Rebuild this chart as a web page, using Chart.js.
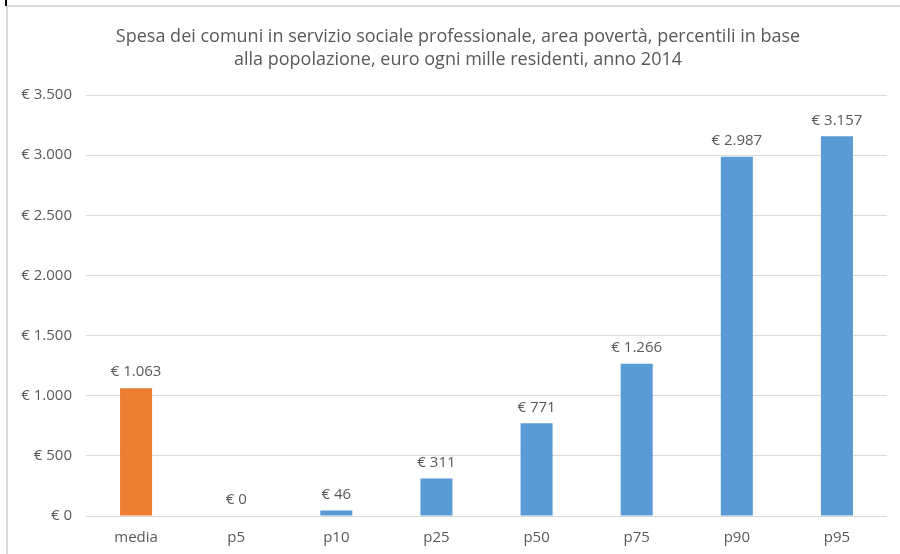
<!DOCTYPE html>
<html>
<head>
<meta charset="utf-8">
<script src="https://cdn.jsdelivr.net/npm/chart.js@4"></script>
<style>
  html, body { margin: 0; padding: 0; background: #fff; }
  #wrap { position: relative; width: 900px; height: 554px; }
  #frameTop { position: absolute; left: 7px; top: 5px; width: 893px; height: 2px; background: #d9d9d9; }
  #frameLeft { position: absolute; left: 6px; top: 6px; width: 2px; height: 548px; background: #d9d9d9; }
  #tick { position: absolute; left: 5px; top: 0; width: 2px; height: 6px; background: #000; }
  canvas { position: absolute; left: 0; top: 0; }
</style>
</head>
<body>
<div id="wrap">
  <canvas id="chart" width="900" height="554"></canvas>
  <div id="frameTop"></div>
  <div id="frameLeft"></div>
  <div id="tick"></div>
</div>
<script>
const categories = ['media', 'p5', 'p10', 'p25', 'p50', 'p75', 'p90', 'p95']
const spesa = [1063, 0, 46, 311, 771, 1266, 2987, 3157]
const barColors = ['#ED7D31', '#5B9BD5', '#5B9BD5', '#5B9BD5', '#5B9BD5', '#5B9BD5', '#5B9BD5', '#5B9BD5']
const titleLines = [
    'Spesa dei comuni in servizio sociale professionale, area povertà, percentili in base',
    'alla popolazione, euro ogni mille residenti, anno 2014'
]

const FONT = '"Open Sans", sans-serif'
const TEXT = '#595959'

// formato euro con punto per le migliaia
function euro(v) {
    return '€ ' + String(Math.round(v)).replace(/\B(?=(\d{3})+(?!\d))/g, '.')
}

// etichette sopra le barre
const valueLabels = {
    id: 'valueLabels',
    afterDatasetsDraw(chart) {
        const ctx = chart.ctx
        const meta = chart.getDatasetMeta(0)
        ctx.save()
        ctx.font = '15px ' + FONT
        ctx.fillStyle = TEXT
        ctx.textAlign = 'center'
        ctx.textBaseline = 'middle'
        meta.data.forEach((bar, i) => {
            ctx.fillText(euro(spesa[i]), bar.x, bar.y - 16)
        })
        ctx.restore()
    }
}

// titolo centrato sull'area del grafico come in Excel
const chartTitle = {
    id: 'chartTitle',
    afterDraw(chart) {
        const ctx = chart.ctx
        ctx.save()
        ctx.font = '18px ' + FONT
        ctx.fillStyle = TEXT
        ctx.textAlign = 'center'
        ctx.textBaseline = 'middle'
        titleLines.forEach((line, i) => {
            ctx.fillText(line, 458, 37 + i * 23)
        })
        ctx.restore()
    }
}

new Chart(document.getElementById('chart'), {
    type: 'bar',
    data: {
        labels: categories,
        datasets: [{
            data: spesa,
            backgroundColor: barColors,
            categoryPercentage: 1,
            barPercentage: 0.32
        }]
    },
    options: {
        responsive: false,
        animation: false,
        layout: { padding: { top: 95, right: 13, bottom: 0, left: 0 } },
        plugins: {
            legend: { display: false },
            tooltip: { enabled: false },
            title: { display: false }
        },
        scales: {
            x: {
                afterFit(scale) { scale.height = 38 },
                grid: { display: false, drawTicks: false },
                border: { display: false },
                ticks: { color: TEXT, font: { family: FONT, size: 15 }, padding: 13 }
            },
            y: {
                min: 0,
                max: 3500,
                afterFit(scale) { scale.width = 86 },
                grid: { color: '#d9d9d9', drawTicks: false },
                border: { display: false },
                ticks: {
                    stepSize: 500,
                    color: TEXT,
                    padding: 14,
                    font: { family: FONT, size: 15 },
                    callback: v => euro(v)
                }
            }
        }
    },
    plugins: [valueLabels, chartTitle]
})
</script>
</body>
</html>
